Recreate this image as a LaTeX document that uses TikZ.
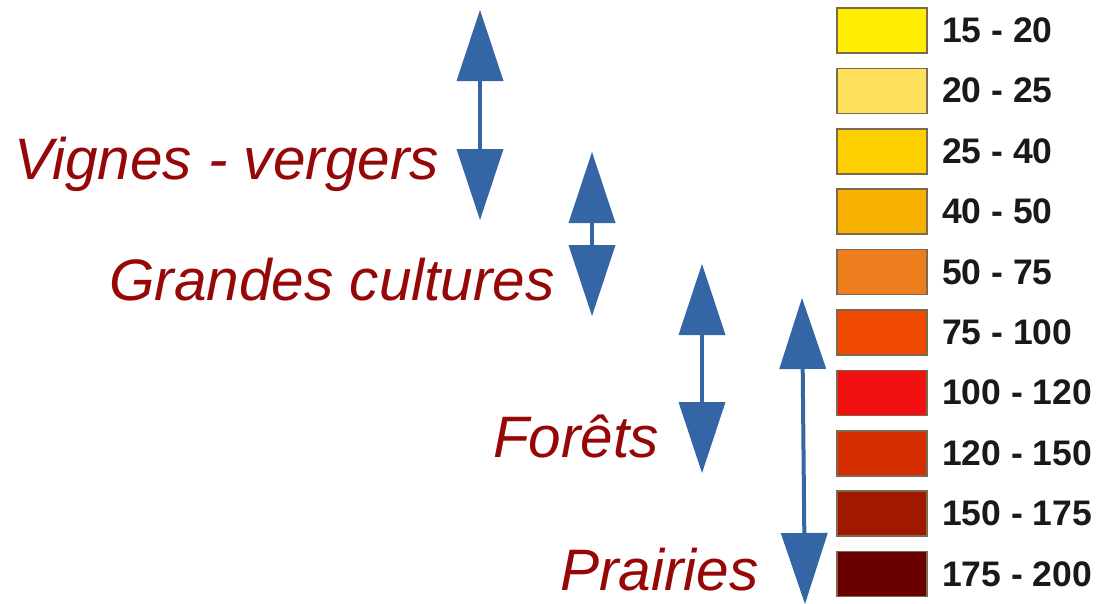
\documentclass[tikz,border=0pt]{standalone}
\usepackage{fontspec}
\setmainfont{Liberation Sans}
\usetikzlibrary{arrows.meta}

\definecolor{labelred}{RGB}{150,8,8}
\definecolor{arrowblue}{RGB}{52,101,164}
\definecolor{boxedge}{RGB}{125,105,80}
\definecolor{legtext}{RGB}{25,25,25}
\definecolor{cA}{RGB}{255,238,0}
\definecolor{cB}{RGB}{255,224,90}
\definecolor{cC}{RGB}{255,208,0}
\definecolor{cD}{RGB}{245,176,0}
\definecolor{cE}{RGB}{236,126,30}
\definecolor{cF}{RGB}{240,74,0}
\definecolor{cG}{RGB}{240,16,16}
\definecolor{cH}{RGB}{212,46,0}
\definecolor{cI}{RGB}{160,24,0}
\definecolor{cJ}{RGB}{106,0,0}

\tikzset{
  landuse/.style={anchor=base west, inner sep=0pt, text=labelred,
    font=\fontsize{58.5}{62}\selectfont\itshape},
  legbox/.style={draw=boxedge, line width=1.5pt, minimum width=90pt,
    minimum height=45pt, inner sep=0pt},
  legval/.style={anchor=base west, inner sep=0pt, text=legtext,
    font=\fontsize{35.5}{38}\selectfont\bfseries},
  spanarrow/.style={arrowblue, line width=4pt,
    {Triangle[length=71pt,width=47pt,line width=0pt]}-{Triangle[length=71pt,width=47pt,line width=0pt]}}
}

\begin{document}
\begin{tikzpicture}[x=1pt,y=-1pt]
\useasboundingbox (0,0) rectangle (1099,603);

% land-use labels
\node[landuse] (vig) at (14,179) {Vignes - vergers};
\node[landuse] (gc)  at (109,300) {Grandes cultures};
\node[landuse] (for) at (493,457) {Forêts};
\node[landuse] (pra) at (560,590) {Prairies};

% value ranges
\coordinate (r1t) at (480,10);  \coordinate (r1b) at (480,220);
\coordinate (r2t) at (592,152); \coordinate (r2b) at (592,316);
\coordinate (r3t) at (702,264); \coordinate (r3b) at (702,473);
\coordinate (r4t) at (802,298); \coordinate (r4b) at (805,604);
\draw[spanarrow] (r1t) -- (r1b);
\draw[spanarrow] (r2t) -- (r2b);
\draw[spanarrow] (r3t) -- (r3b);
\draw[spanarrow] (r4t) -- (r4b);

% legend
\foreach \c/\t [count=\i from 0] in {cA/15 - 20, cB/20 - 25, cC/25 - 40,
    cD/40 - 50, cE/50 - 75, cF/75 - 100, cG/100 - 120, cH/120 - 150,
    cI/150 - 175, cJ/175 - 200} {
  \node[legbox, fill=\c] (box\i) at (882,30.5+60.4*\i) {};
  \node[legval] (val\i) at (942,42.5+60.4*\i) {\t};
}
\end{tikzpicture}
\end{document}
